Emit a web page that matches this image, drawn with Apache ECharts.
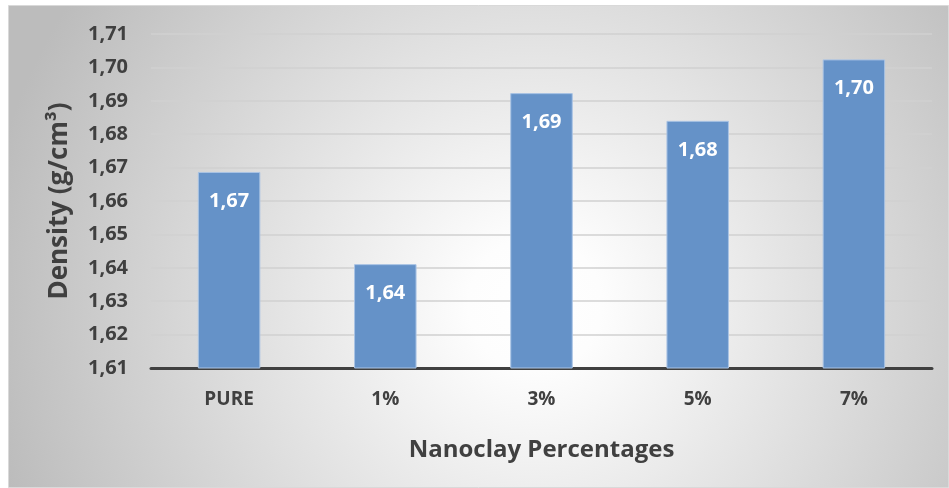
<!DOCTYPE html>
<html>
<head>
<meta charset="utf-8">
<title>Density vs Nanoclay Percentage</title>
<script src="https://cdn.jsdelivr.net/npm/echarts@6/dist/echarts.min.js"></script>
<style>
  html, body { margin: 0; padding: 0; background: #ffffff; }
  #chart { width: 949px; height: 488px; }
</style>
</head>
<body>
<div id="chart"></div>
<script>
// Nanoclay content of each sample
const categories = ['PURE', '1%', '3%', '5%', '7%'];
// Measured density (g/cm³)
const densities = [1.6687, 1.6411, 1.6923, 1.6840, 1.7024];
// Value axis range
const yMin = 1.61;
const yMax = 1.71;
const yStep = 0.01;

const fmt = v => Number(v).toFixed(2).replace('.', ',');
const FONT = '"Open Sans", "Liberation Sans", sans-serif';
const TEXT = '#404040';

const chart = echarts.init(document.getElementById('chart'), null, { renderer: 'canvas' });

chart.setOption({
  animation: false,
  backgroundColor: '#ffffff',
  graphic: {
    elements: [{
      type: 'rect',
      z: -100,
      silent: true,
      shape: { x: 8.5, y: 5.5, width: 940, height: 482 },
      style: {
        fill: new echarts.graphic.RadialGradient(0.56, 0.62, 1.15, [
          { offset: 0, color: '#ffffff' },
          { offset: 0.12, color: '#fdfdfd' },
          { offset: 1, color: '#bcbcbc' }
        ]),
        stroke: '#d9d9d9',
        lineWidth: 1
      }
    }]
  },
  grid: { left: 151, right: 17, top: 34, bottom: 120, containLabel: false },
  xAxis: {
    type: 'category',
    data: categories,
    name: 'Nanoclay Percentages',
    nameLocation: 'middle',
    nameGap: 70,
    nameTextStyle: { fontFamily: FONT, fontWeight: 'bold', fontSize: 24, color: TEXT },
    axisLine: { show: true, onZero: false, lineStyle: { color: '#404040', width: 3 } },
    axisTick: { show: false },
    axisLabel: { fontFamily: FONT, fontWeight: 'bold', fontSize: 19, color: TEXT, margin: 22 }
  },
  yAxis: {
    type: 'value',
    min: yMin,
    max: yMax,
    interval: yStep,
    name: 'Density (g/cm³)',
    nameLocation: 'middle',
    nameGap: 78,
    nameRotate: 90,
    nameTextStyle: { fontFamily: FONT, fontWeight: 'bold', fontSize: 26, color: TEXT },
    axisLine: { show: false },
    axisTick: { show: false },
    axisLabel: { fontFamily: FONT, fontWeight: 'bold', fontSize: 20, color: TEXT, margin: 23, formatter: v => fmt(v) },
    splitLine: { show: true, lineStyle: { color: '#d0d0d0', width: 1.5 } }
  },
  series: [{
    type: 'bar',
    data: densities,
    barCategoryGap: '60%',
    itemStyle: { color: '#6592c8', borderColor: '#a9c3e4', borderWidth: 1 },
    label: {
      show: true,
      position: 'insideTop',
      distance: 19,
      fontFamily: FONT,
      fontWeight: 'bold',
      fontSize: 20,
      color: '#ffffff',
      formatter: p => fmt(p.value)
    }
  }]
});
</script>
</body>
</html>
